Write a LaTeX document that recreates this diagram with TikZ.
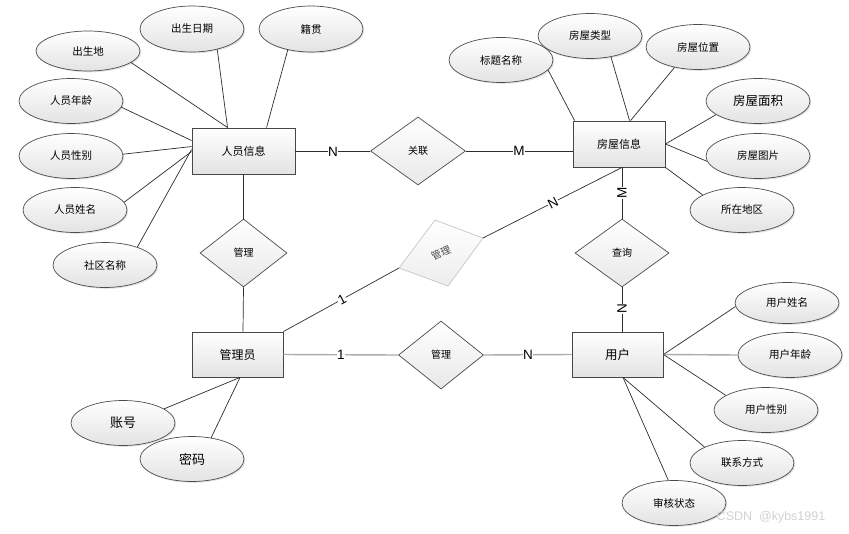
\documentclass[tikz,border=0pt]{standalone}
\usepackage{fontspec}
\setmainfont{Noto Sans CJK SC}
\newfontfamily\latfont{Liberation Sans}
\usetikzlibrary{shapes.geometric,shadows}
\tikzset{
  shd/.style={drop shadow={opacity=0.22, shadow xshift=1.3pt, shadow yshift=-1.3pt}},
  attr/.style={ellipse, draw=gray!60!black, line width=0.7pt, top color=white, bottom color=gray!22,
    minimum width=104pt, minimum height=45pt, inner sep=0pt, shd,
    font=\fontsize{10.5}{12}\selectfont},
  ent/.style={rectangle, draw=gray!55!black, line width=0.9pt, top color=white, bottom color=gray!22,
    minimum width=92pt, minimum height=46pt, inner sep=0pt, shd,
    font=\fontsize{11}{13}\selectfont},
  rel/.style={diamond, draw=gray!60!black, line width=0.7pt, top color=white, bottom color=gray!18,
    minimum width=94pt, minimum height=68pt, inner sep=0pt, aspect=1.4,
    font=\fontsize{10}{12}\selectfont},
  conn/.style={draw=gray!35!black, line width=0.7pt},
  conn2/.style={draw=gray!65, line width=1.4pt},
  lbl/.style={fill=white, inner sep=0.6pt, font=\latfont\fontsize{13.5}{14}\selectfont},
}
\begin{document}
\begin{tikzpicture}[x=1pt,y=-1pt]
\path[use as bounding box, fill=white] (0,0) rectangle (849,533);
% ---- person entity
\node[ent, minimum width=103pt] (ryxx) at (243.5,151) {人员信息};
\node[attr, minimum height=40pt] (csd) at (88,51) {出生地};
\node[attr, minimum height=46pt] (csrq) at (192,29) {出生日期};
\node[attr, minimum height=46pt] (jg) at (311,29) {籍贯};
\node[attr] (rynl) at (71,101) {人员年龄};
\node[attr] (ryxb) at (71,156) {人员性别};
\node[attr] (ryxm) at (75,210) {人员姓名};
\node[attr] (sqmc) at (105,265) {社区名称};
\node[rel, minimum width=87pt] (gl1) at (243.5,253) {管理};
\node[rel, minimum width=95pt] (gll) at (418,151) {关联};
% ---- house entity
\node[ent] (fwxx) at (619,144) {房屋信息};
\node[attr] (btmc) at (501,60) {标题名称};
\node[attr] (fwlx) at (590,36) {房屋类型};
\node[attr] (fwwz) at (698,47) {房屋位置};
\node[attr, font=\fontsize{12.5}{14}\selectfont] (fwmj) at (758,101) {房屋面积};
\node[attr] (fwtp) at (758,156) {房屋图片};
\node[attr] (szdq) at (742,210) {所在地区};
\node[rel] (cx) at (622,253) {查询};
% ---- admin
\node[ent, minimum width=91pt, minimum height=45pt, font=\fontsize{12}{14}\selectfont] (gly) at (237.5,354.5) {管理员};
\node[attr, font=\fontsize{13}{15}\selectfont] (zh) at (123,423) {账号};
\node[attr, font=\fontsize{13}{15}\selectfont] (mm) at (192,459) {密码};
\node[rel, minimum width=85pt] (gl2) at (441,355) {管理};
% ---- user
\node[ent, minimum width=91pt, minimum height=45pt, font=\fontsize{12.5}{14}\selectfont] (yh) at (617.5,354.5) {用户};
\node[attr, minimum height=41pt] (yhxm) at (787,303) {用户姓名};
\node[attr] (yhnl) at (790,355) {用户年龄};
\node[attr] (yhxb) at (766,410) {用户性别};
\node[attr] (lxfs) at (742,463) {联系方式};
\node[attr] (shzt) at (674,503) {审核状态};
% ---- slanted (grey) relationship
\coordinate (gT) at (435,220);
\coordinate (gR) at (483,238);
\coordinate (gB) at (448,286);
\coordinate (gL) at (399,268);
\path[draw=gray!45, line width=0.7pt, top color=white, bottom color=gray!14] (gT) -- (gR) -- (gB) -- (gL) -- cycle;
\node[rotate=24, inner sep=0pt, text=gray!60!black, font=\fontsize{10}{12}\selectfont] (glt) at (441,253) {管理};
% ---- connectors
\draw[conn] (csd.-15) -- ([xshift=36pt]ryxx.north west);
\draw[conn] (csrq.-39) -- ([xshift=36pt]ryxx.north west);
\draw[conn] (jg.222) -- ([xshift=75pt]ryxx.north west);
\draw[conn] (rynl.-7) -- ([yshift=-13pt]ryxx.north west);
\draw[conn] (ryxb.2) -- ([yshift=-19pt]ryxx.north west);
\draw[conn] (ryxm.9) -- ([yshift=-24pt]ryxx.north west);
\draw[conn] (sqmc.29) -- ([yshift=-22pt]ryxx.north west);
\draw[conn] (ryxx.east) -- (gll.west);
\draw[conn] (ryxx.south) -- (gl1.north);
\draw[conn] (gl1.south) -- ([xshift=5.5pt]gly.north);
\draw[conn] (gll.east) -- ([yshift=-7pt]fwxx.west);
\draw[conn] (btmc.-12) -- ([xshift=2pt]fwxx.north west);
\draw[conn] (fwlx.-45) -- ([xshift=57pt]fwxx.north west);
\draw[conn] (fwwz.221) -- ([xshift=58pt]fwxx.north west);
\draw[conn] (fwmj.198) -- (fwxx.east);
\draw[conn] (fwtp.186) -- (fwxx.east);
\draw[conn] (szdq.159) -- (fwxx.south east);
\draw[conn] ([xshift=3pt]fwxx.south) -- (cx.north);
\draw[conn] (cx.south) -- ([xshift=4.5pt]yh.north);
\draw[conn] (gly.north east) -- (gL);
\draw[conn] (gR) -- ([xshift=3pt]fwxx.south);
\draw[conn2] (gly.east) -- (gl2.west);
\draw[conn2] (gl2.east) -- (yh.west);
\draw[conn] (zh.19) -- ([xshift=2.5pt]gly.south);
\draw[conn] (mm.48) -- ([xshift=2.5pt]gly.south);
\draw[conn] (yhxm.184) -- (yh.east);
\draw[conn2] (yhnl.west) -- (yh.east);
\draw[conn] (yhxb.160) -- (yh.east);
\draw[conn] (lxfs.157) -- ([xshift=5.5pt]yh.south);
\draw[conn] (shzt.104) -- ([xshift=5.5pt]yh.south);
% ---- cardinality labels
\node[lbl] (c1) at (333,152) {N};
\node[lbl] (c2) at (519,151) {M};
\node[lbl, rotate=90] (c3) at (622,193) {M};
\node[lbl, rotate=90] (c4) at (622,309) {N};
\node[lbl, rotate=28] (c5) at (342,300) {1};
\node[lbl, rotate=28] (c6) at (553,203) {N};
\node[lbl] (c7) at (341,355) {1};
\node[lbl] (c8) at (528,355) {N};
% ---- watermark
\node[text=gray!35, font=\latfont\fontsize{12.5}{14}\selectfont] (wm) at (771,517) {CSDN\ \ @kybs1991};
\end{tikzpicture}
\end{document}
